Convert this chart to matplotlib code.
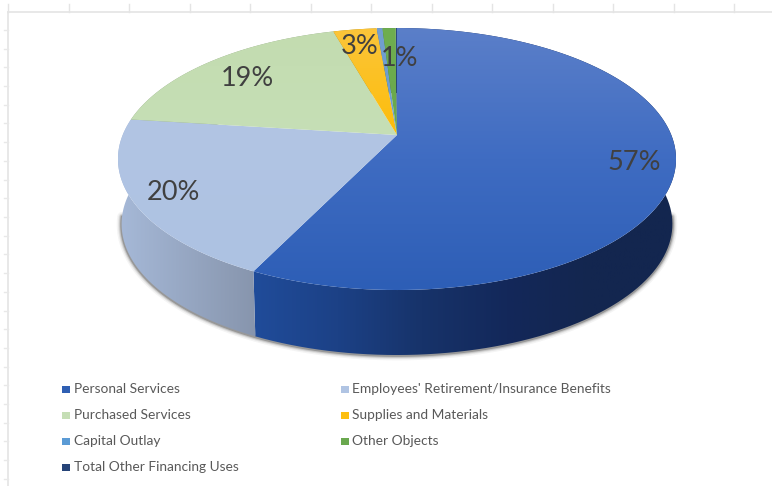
import numpy as np
import matplotlib
matplotlib.use("Agg")
import matplotlib.pyplot as plt
from matplotlib.colors import LinearSegmentedColormap
from matplotlib.patches import Polygon

plt.rcParams['font.family'] = ['Lato', 'DejaVu Sans']

categories = ["Personal Services", "Employees' Retirement/Insurance Benefits",
              "Purchased Services", "Supplies and Materials",
              "Capital Outlay", "Other Objects", "Total Other Financing Uses"]
values = [57.2, 19.8, 18.6, 3.0, 0.4, 0.9, 0.1]
legend_colors = ["#2f5fb3", "#b0c4e3", "#c5deb5", "#fdbf10", "#5b9bd5", "#6aa84f", "#264478"]
label_pos = [(634, 162), (173, 192), (247, 79), (360, 46), None, (400, 58), None]

# top face colours (top to bottom) and wall colours (left to right)
face_grad = [("#5b7fc9", "#3f6cc2", "#2d5eb6"), ("#b2c5e4", "#adc2e2"), ("#c3dcb0", "#c6dfb6"),
             ("#fbc53a", "#fdbd0a"), ("#739fd0", "#6a9bd2"), ("#6fae50", "#68a84a"),
             ("#2c4a80", "#25457c")]
wall_grad = [("#204c9a", "#1c4186", "#17336a", "#13285a", "#13264f", "#13264f"), ("#a6b9d8", "#8795ad"),
             ("#8fa383", "#8fa383"), ("#b08a10", "#b08a10"), ("#4a6f99", "#4a6f99"),
             ("#4a7a36", "#4a7a36"), ("#1a2f55", "#1a2f55")]

# disc geometry in pixels, with a simple perspective about the apex
APEX = (397, 135)
A, B, K = 274.3, 126.6, 0.1833
DEPTH = 65
LOWER_SCALE = 0.987


def rim(share_from, share_to):
    t = np.radians(np.linspace(share_from, share_to, 120) * 3.6)
    u, v = np.sin(t), -np.cos(t)
    w = 1 - K * v
    return np.column_stack([APEX[0] + A * u / w, APEX[1] + B * v / w])


def lower(r):
    # the bottom edge of the disc sits further away, so it is a bit narrower
    return np.column_stack([APEX[0] + LOWER_SCALE * (r[:, 0] - APEX[0]), r[:, 1] + DEPTH])


def gradient_fill(ax, pts, colors, vertical=False):
    # paints a polygon through a clipped gradient image
    cmap = LinearSegmentedColormap.from_list("g", list(colors))
    xmin, ymin = pts.min(axis=0)
    xmax, ymax = pts.max(axis=0)
    ramp = np.linspace(0, 1, 256)
    data = ramp[:, None] if vertical else ramp[None, :]
    im = ax.imshow(data, cmap=cmap, extent=(xmin, xmax, ymax, ymin), aspect="auto", zorder=ax.zcount)
    patch = Polygon(pts, transform=ax.transData, fc="none", ec="none")
    ax.add_patch(patch)
    im.set_clip_path(patch)
    ax.zcount += 1


fig = plt.figure(figsize=(7.72, 4.86), dpi=100)
ax = fig.add_axes([0, 0, 1, 1])
ax.zcount = 3
ax.set_axis_off()

# faint sheet ruler behind the chart
ax.plot([8, 772], [12, 12], color="#e4e4e4", lw=1.2, zorder=1)
ax.plot([8, 8], [12, 486], color="#e4e4e4", lw=1.2, zorder=1)
for x in np.arange(8, 772, 60.5):
    ax.plot([x, x], [4, 12], color="#e4e4e4", lw=1, zorder=1)
for y in np.arange(30, 486, 18.7):
    ax.plot([4, 8], [y, y], color="#e8e8e8", lw=1, zorder=1)

edges = np.concatenate([[0], np.cumsum(values)])

# drop shadow hugging the lower edge of the wall
low = lower(rim(27, 73))
for lw, alpha in [(7, 0.05), (5, 0.09), (3.5, 0.16), (2, 0.3)]:
    ax.plot(low[:, 0], low[:, 1] + 0.5, color="#303030", lw=lw, alpha=alpha,
            solid_capstyle="round", zorder=2)

# side walls first, the top face covers whatever is behind it
for i in range(len(values)):
    r = rim(edges[i], edges[i + 1])
    pts = np.vstack([r, lower(r)[::-1]])
    gradient_fill(ax, pts, wall_grad[i])

for i in range(len(values)):
    r = rim(edges[i], edges[i + 1])
    pts = np.vstack([[APEX], r])
    gradient_fill(ax, pts, face_grad[i], vertical=True)

for i, v in enumerate(values):
    if label_pos[i] is not None:
        ax.text(*label_pos[i], f"{v:.0f}%", fontsize=19.5, color="#404040",
                ha="center", va="center", zorder=50)

# legend, two columns
leg_x = [(62, 74), (341, 352)]
leg_y = [389, 415, 441, 467]
for i, name in enumerate(categories):
    mx, tx = leg_x[i % 2]
    y = leg_y[i // 2]
    ax.add_patch(plt.Rectangle((mx, y - 3.5), 7.5, 7.5, fc=legend_colors[i], ec="none", zorder=50))
    ax.text(tx, y, name, fontsize=9.95, color="#595959", ha="left", va="center", zorder=50)

ax.set_xlim(0, 772)
ax.set_ylim(486, 0)
fig.savefig("out.png", dpi=100, facecolor="white")
